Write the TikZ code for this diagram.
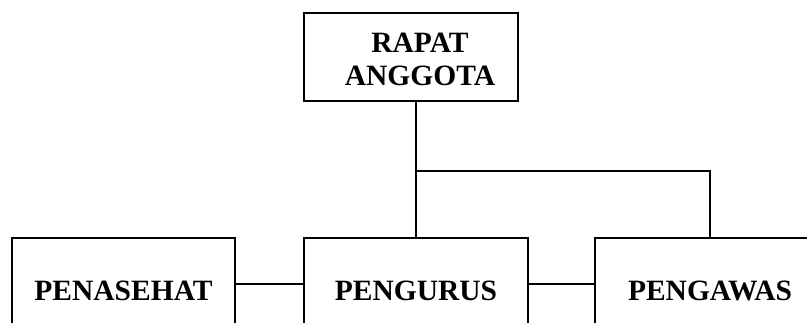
\documentclass[tikz,border=0pt]{standalone}
\usepackage{fontspec}
\setmainfont{Liberation Serif}
\begin{document}
\begin{tikzpicture}[x=1pt,y=1pt,
  orgbox/.style={draw=black,line width=2.5pt,minimum width=#1,inner sep=0pt},
  orgtext/.style={font=\fontsize{29.5}{33}\selectfont\bfseries,inner sep=0pt,align=center},
  link/.style={draw=black,line width=2.5pt}]
  \useasboundingbox (0,0) rectangle (807,322);
  \clip (0,0) rectangle (807,322);
  % top box: members' meeting
  \node[orgbox=214pt,minimum height=88pt] (rapat) at (411,265) {};
  \node[orgtext] (rapattext) at (420,262.5) {RAPAT\\ANGGOTA};
  % lower row, boxes running past the lower edge
  \node[orgbox=223pt,minimum height=106pt,orgtext] (penasehat) at (123.5,31) {PENASEHAT};
  \node[orgbox=224pt,minimum height=106pt,orgtext] (pengurus) at (416,31) {PENGURUS};
  \node[orgbox=230pt,minimum height=106pt,orgtext] (pengawas) at (710,31) {PENGAWAS};
  % links
  \coordinate (branch) at (pengurus.north |- 0,151);
  \draw[link] (rapat.south -| pengurus.north) -- (pengurus.north);
  \draw[link] (branch) -| (pengawas.north);
  \draw[link] ([yshift=7pt]penasehat.east) -- ([yshift=7pt]pengurus.west);
  \draw[link] ([yshift=7pt]pengurus.east) -- ([yshift=7pt]pengawas.west);
\end{tikzpicture}
\end{document}
